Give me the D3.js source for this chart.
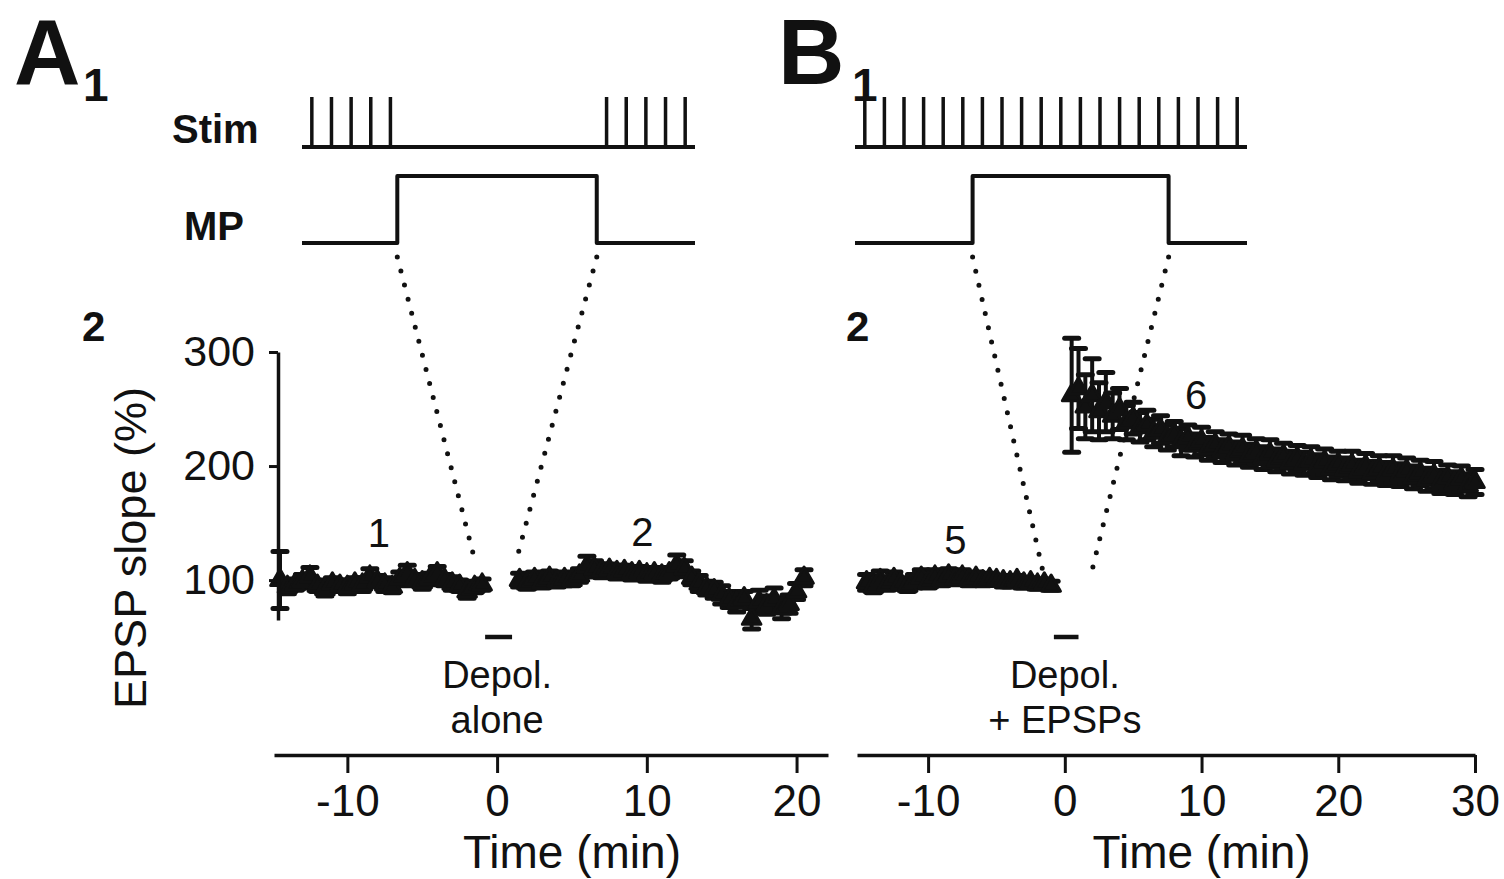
<!DOCTYPE html>
<html>
<head>
<meta charset="utf-8">
<script src="https://cdn.jsdelivr.net/npm/d3@7/dist/d3.min.js"></script>
<style>
  body { margin: 0; background: #fff; }
  svg text { font-family: "Liberation Sans", Arial, Helvetica, sans-serif; fill: #111; }
</style>
</head>
<body>
<div class="figure"></div>
<script>
// ---- panel A: depolarization alone ----
const timeA_pre = [-14.5,-14,-13.5,-13,-12.5,-12,-11.5,-11,-10.5,-10,-9.5,-9,-8.5,-8,-7.5,-7,-6.5,-6,-5.5,-5,-4.5,-4,-3.5,-3,-2.5,-2,-1.5,-1];
const slopeA_pre = [100,94,96,99,103,95,92,97,95,94,97,96,103,99,96,94,101,106,100,98,101,106,100,97,95,90,94,96];
const semA_pre = [25,6,5,6,8,5,6,5,5,6,5,6,7,5,6,5,6,7,5,6,5,6,5,6,5,6,5,5];

const timeA_post = [1.5,2,2.5,3,3.5,4,4.5,5,5.5,6,6.5,7,7.5,8,8.5,9,9.5,10,10.5,11,11.5,12,12.5,13,13.5,14,14.5,15,15.5,16,16.5,17,17.5,18,18.5,19,19.5,20,20.5];
const slopeA_post = [100,97,101,98,102,99,101,100,104,112,110,108,109,107,108,106,107,105,106,104,106,113,110,102,97,93,91,87,83,80,84,66,81,78,83,75,79,90,102];
const semA_post = [6,5,6,5,6,5,6,5,6,9,7,6,5,6,5,6,5,6,5,6,5,9,7,6,7,6,7,8,7,8,6,9,10,8,10,9,8,7,7];

// ---- panel B: depolarization + EPSPs ----
const timeB_pre = [-14.5,-14,-13.5,-13,-12.5,-12,-11.5,-11,-10.5,-10,-9.5,-9,-8.5,-8,-7.5,-7,-6.5,-6,-5.5,-5,-4.5,-4,-3.5,-3,-2.5,-2,-1.5,-1];
const slopeB_pre = [98,94,100,96,101,97,95,99,102,98,103,100,104,101,103,100,102,99,101,100,99,98,100,97,98,96,97,95];
const semB_pre = [7,5,8,5,6,5,5,6,7,5,6,5,6,5,6,5,5,4,5,4,5,4,4,4,4,4,4,4];

const timeB_post = [0.5,1,1.5,2,2.5,3,3.5,4,4.5,5,5.5,6,6.5,7,7.5,8,8.5,9,9.5,10,10.5,11,11.5,12,12.5,13,13.5,14,14.5,15,15.5,16,16.5,17,17.5,18,18.5,19,19.5,20,20.5,21,21.5,22,22.5,23,23.5,24,24.5,25,25.5,26,26.5,27,27.5,28,28.5,29,29.5,30];
const slopeB_post = [262,268,252,262,248,256,244,250,238,242,234,236,229,232,225,228,221,225,218,222,215,219,213,217,211,215,209,213,207,211,205,209,203,207,202,205,200,204,198,202,197,201,195,200,194,198,193,197,192,196,190,194,188,192,186,190,185,189,183,186];
const semB_post = [50,35,28,32,25,26,20,18,15,14,13,13,12,12,11,11,12,11,10,12,10,11,10,11,10,12,10,11,10,12,10,11,10,11,10,12,10,11,10,11,10,12,10,11,10,11,10,12,10,11,10,11,10,12,10,11,10,11,10,11];

// axis ticks
const yTicks = [100, 200, 300];
const xTicksA = [-10, 0, 10, 20];
const xTicksB = [-10, 0, 10, 20, 30];

// stimulation protocol (trace units 0..20)
const stimA = [0.5,1.5,2.5,3.5,4.5,15.5,16.5,17.5,18.5,19.5];
const stimB = [0.5,1.5,2.5,3.5,4.5,5.5,6.5,7.5,8.5,9.5,10.5,11.5,12.5,13.5,14.5,15.5,16.5,17.5,18.5,19.5];
const mpA = [[0,0],[4.85,0],[4.85,1],[15,1],[15,0],[20,0]];
const mpB = [[0,0],[6,0],[6,1],[16,1],[16,0],[20,0]];

// dotted lines: MP step -> time on the plot
const linksA = [{step: 4.85, t: -1.5, v: 118}, {step: 15, t: 1.2, v: 113}];
const linksB = [{step: 6, t: -1.5, v: 102}, {step: 16, t: 2.0, v: 109}];

const depolPeriod = [-0.8, 1.0];

const labelsA = [{text: "1", t: -7.9, v: 129}, {text: "2", t: 9.7, v: 130}];
const labelsB = [{text: "5", t: -8.0, v: 123}, {text: "6", t: 9.6, v: 250}];

const svg = d3.select('.figure')
  .append('svg')
  .attr('width', 1504)
  .attr('height', 879)
  .style('background', '#fff');

// shared y scale (both panels have the same vertical scaling)
const yScale = d3.scaleLinear().domain([65, 300]).range([620, 352]);

function zip(times, vals, sems) {
  return times.map((t, i) => ({t: t, v: vals[i], sem: sems[i]}));
}

function drawPanel(p) {
  const x = d3.scaleLinear().domain(p.xDomain).range(p.xRange);
  const traceX = d3.scaleLinear().domain([0, 20]).range(p.traceRange);
  const mpY = d3.scaleLinear().domain([0, 1]).range([243, 176]);
  const g = svg.append('g');

  // stim trace
  g.append('line')
    .attr('x1', traceX(0)).attr('x2', traceX(20))
    .attr('y1', 147).attr('y2', 147)
    .style('stroke', '#111').style('stroke-width', 4);
  g.selectAll('.stim')
    .data(p.stim)
    .enter().append('line')
    .attr('x1', d => traceX(d)).attr('x2', d => traceX(d))
    .attr('y1', 147).attr('y2', 97)
    .style('stroke', '#111').style('stroke-width', 3.5);

  // membrane potential trace
  g.append('path')
    .attr('d', d3.line().x(d => traceX(d[0])).y(d => mpY(d[1]))(p.mp))
    .style('fill', 'none').style('stroke', '#111').style('stroke-width', 4)
    .style('stroke-linejoin', 'round');

  // dotted links
  g.selectAll('.link')
    .data(p.links)
    .enter().append('line')
    .attr('x1', d => traceX(d.step)).attr('y1', mpY(0) + 14)
    .attr('x2', d => x(d.t)).attr('y2', d => yScale(d.v))
    .style('stroke', '#111').style('stroke-width', 5)
    .style('stroke-linecap', 'round').style('stroke-dasharray', '0,14.5');

  // data points with error bars
  const pts = p.series.flat();
  const bars = g.append('g');
  pts.forEach(d => {
    const top = yScale(d.v + d.sem), bot = yScale(d.v - d.sem), cx = x(d.t);
    bars.append('line').attr('x1', cx).attr('x2', cx).attr('y1', top).attr('y2', bot)
      .style('stroke', '#111').style('stroke-width', 4);
    [top, bot].forEach(yy => {
      bars.append('line').attr('x1', cx - 7).attr('x2', cx + 7).attr('y1', yy).attr('y2', yy)
        .style('stroke', '#111').style('stroke-width', 5).style('stroke-linecap', 'round');
    });
  });
  g.selectAll('.pt')
    .data(pts)
    .enter().append('path')
    .attr('d', d3.symbol().type(d3.symbolTriangle).size(150))
    .attr('transform', d => 'translate(' + x(d.t) + ',' + yScale(d.v) + ')')
    .style('fill', '#111').style('stroke', '#111').style('stroke-width', 3)
    .style('stroke-linejoin', 'round');

  // point labels
  g.selectAll('.lab')
    .data(p.labels)
    .enter().append('text')
    .attr('x', d => x(d.t)).attr('y', d => yScale(d.v))
    .attr('text-anchor', 'middle')
    .style('font-size', '40px')
    .text(d => d.text);

  // depolarization marker
  g.append('line')
    .attr('x1', x(depolPeriod[0])).attr('x2', x(depolPeriod[1]))
    .attr('y1', 637).attr('y2', 637)
    .style('stroke', '#111').style('stroke-width', 4.5);
  p.depolText.forEach((s, i) => {
    g.append('text')
      .attr('x', x(0)).attr('y', 688 + i * 45)
      .attr('text-anchor', 'middle')
      .style('font-size', '38px')
      .text(s);
  });

  // x axis
  const xAxis = d3.axisBottom(x).tickValues(p.xTicks).tickFormat(d => String(d))
    .tickSizeInner(18).tickSizeOuter(0);
  const ax = g.append('g').attr('transform', 'translate(0,755)').call(xAxis);
  ax.select('.domain').style('stroke', '#111').style('stroke-width', 3.5);
  ax.selectAll('.tick line').style('stroke', '#111').style('stroke-width', 3);
  ax.selectAll('.tick text').attr('y', 30).style('font-size', '44px').style('fill', '#111');
  g.append('text')
    .attr('x', x(p.xTitleAt)).attr('y', 868)
    .attr('text-anchor', 'middle')
    .style('font-size', '46px')
    .text('Time (min)');

  // panel letters
  g.append('text').attr('x', p.letterX).attr('y', 84)
    .style('font-size', '92px').style('font-weight', 'bold').text(p.letter);
  g.append('text').attr('x', p.letterX + p.subOffset).attr('y', 101)
    .style('font-size', '46px').style('font-weight', 'bold').text('1');
  g.append('text').attr('x', p.letterX + 68).attr('y', 341)
    .style('font-size', '42px').style('font-weight', 'bold').text('2');

  return x;
}

drawPanel({
  letter: 'A', letterX: 14, subOffset: 69,
  xDomain: [-14.9, 22.1], xRange: [274, 828], traceRange: [302, 695],
  xTicks: xTicksA, xTitleAt: 5,
  stim: stimA, mp: mpA, links: linksA,
  series: [zip(timeA_pre, slopeA_pre, semA_pre), zip(timeA_post, slopeA_post, semA_post)],
  labels: labelsA, depolText: ['Depol.', 'alone']
});

drawPanel({
  letter: 'B', letterX: 778, subOffset: 74,
  xDomain: [-15.2, 30], xRange: [857, 1475], traceRange: [855, 1247],
  xTicks: xTicksB, xTitleAt: 10,
  stim: stimB, mp: mpB, links: linksB,
  series: [zip(timeB_pre, slopeB_pre, semB_pre), zip(timeB_post, slopeB_post, semB_post)],
  labels: labelsB, depolText: ['Depol.', '+ EPSPs']
});

// y axis, panel A only
const yAxis = d3.axisLeft(yScale).tickValues(yTicks).tickSizeInner(9).tickSizeOuter(0).tickPadding(14);
const ya = svg.append('g').attr('transform', 'translate(278,0)').call(yAxis);
ya.select('.domain').style('stroke', '#111').style('stroke-width', 3.5);
ya.selectAll('.tick line').style('stroke', '#111').style('stroke-width', 3);
ya.selectAll('.tick text').style('font-size', '43px').style('fill', '#111');

svg.append('text')
  .attr('transform', 'translate(146,548) rotate(-90)')
  .attr('text-anchor', 'middle')
  .style('font-size', '45px')
  .text('EPSP slope (%)');

// trace labels
svg.append('text').attr('x', 172).attr('y', 143)
  .style('font-size', '40px').style('font-weight', 'bold').text('Stim');
svg.append('text').attr('x', 184).attr('y', 240)
  .style('font-size', '40px').style('font-weight', 'bold').text('MP');
</script>
</body>
</html>
